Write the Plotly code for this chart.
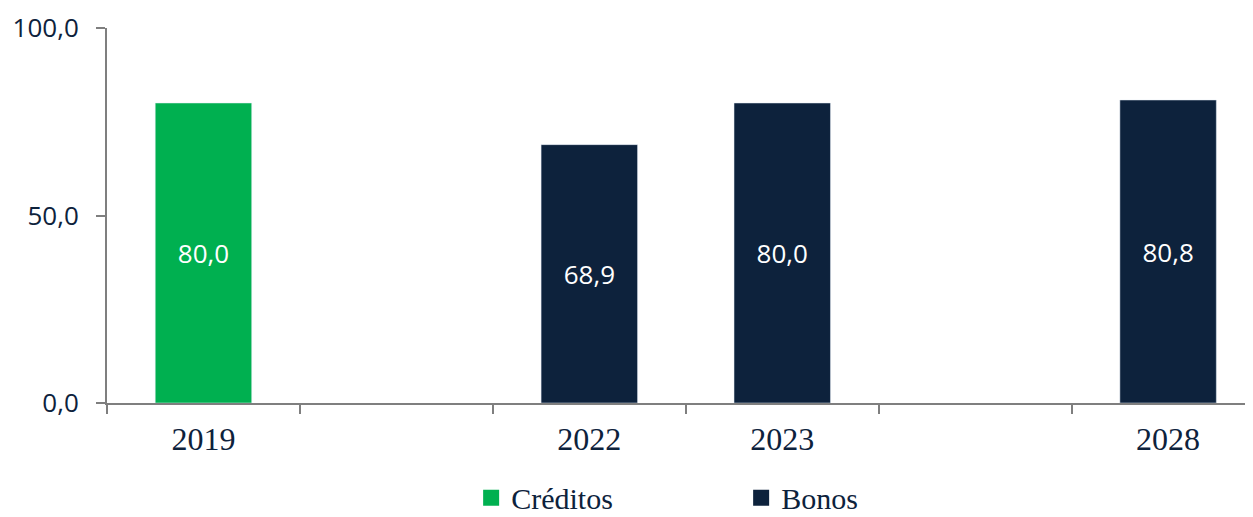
import plotly.graph_objects as go

categories = ["2019", " ", "2022", "2023", "  ", "2028"]
creditos_x = ["2019"]
creditos_y = [80.0]
bonos_x = ["2022", "2023", "2028"]
bonos_y = [68.9, 80.0, 80.8]
y_ticks = [0, 50, 100]
y_ticktext = ["0,0", "50,0", "100,0"]

GREEN = "#00B050"
NAVY = "#0D223C"
AXIS = "#7F7F7F"

def fmt(v):
    return f"{v:.1f}".replace(".", ",")

fig = go.Figure()
fig.add_trace(go.Bar(x=creditos_x, y=creditos_y, name="Créditos", marker_color=GREEN,
                     width=0.5, text=[fmt(v) for v in creditos_y], textposition="inside",
                     insidetextanchor="middle", textangle=0,
                     textfont=dict(color="white", size=26, family="Open Sans"),
                     showlegend=False))
fig.add_trace(go.Bar(x=bonos_x, y=bonos_y, name="Bonos", marker_color=NAVY,
                     width=0.5, text=[fmt(v) for v in bonos_y], textposition="inside",
                     insidetextanchor="middle", textangle=0,
                     textfont=dict(color="white", size=26, family="Open Sans"),
                     showlegend=False))
# legend entries
fig.add_trace(go.Scatter(x=[None], y=[None], mode="markers", name="Créditos",
                         marker=dict(symbol="square", size=17, color=GREEN)))
fig.add_trace(go.Scatter(x=[None], y=[None], mode="markers", name="Bonos",
                         marker=dict(symbol="square", size=17, color=NAVY)))

fig.update_layout(
    width=1245, height=509,
    margin=dict(l=99, r=0, t=20, b=114),
    paper_bgcolor="white", plot_bgcolor="white",
    barmode="overlay",
    legend=dict(orientation="h", x=0.372, xref="container", xanchor="left",
                y=0.038, yref="container", yanchor="middle",
                font=dict(family="Liberation Serif", size=30, color=NAVY),
                entrywidth=225, itemwidth=30, traceorder="normal"),
)
fig.update_xaxes(type="category", categoryorder="array", categoryarray=categories,
                 range=[-0.5, 5.44], showline=True, linecolor=AXIS, linewidth=2,
                 ticks="outside", tickson="boundaries", ticklen=9, tickcolor=AXIS,
                 tickwidth=2, showgrid=False, automargin=False,
                 tickfont=dict(family="Liberation Serif", size=32, color=NAVY),
                 ticklabelstandoff=7)
fig.update_yaxes(range=[0, 100], tickvals=y_ticks, ticktext=y_ticktext,
                 showline=True, linecolor=AXIS, linewidth=2, ticks="outside",
                 ticklen=9, tickcolor=AXIS, tickwidth=2, showgrid=False,
                 zeroline=False, automargin=False,
                 tickfont=dict(family="Open Sans", size=26, color=NAVY),
                 ticklabelstandoff=12)

fig.write_html("out.html")
